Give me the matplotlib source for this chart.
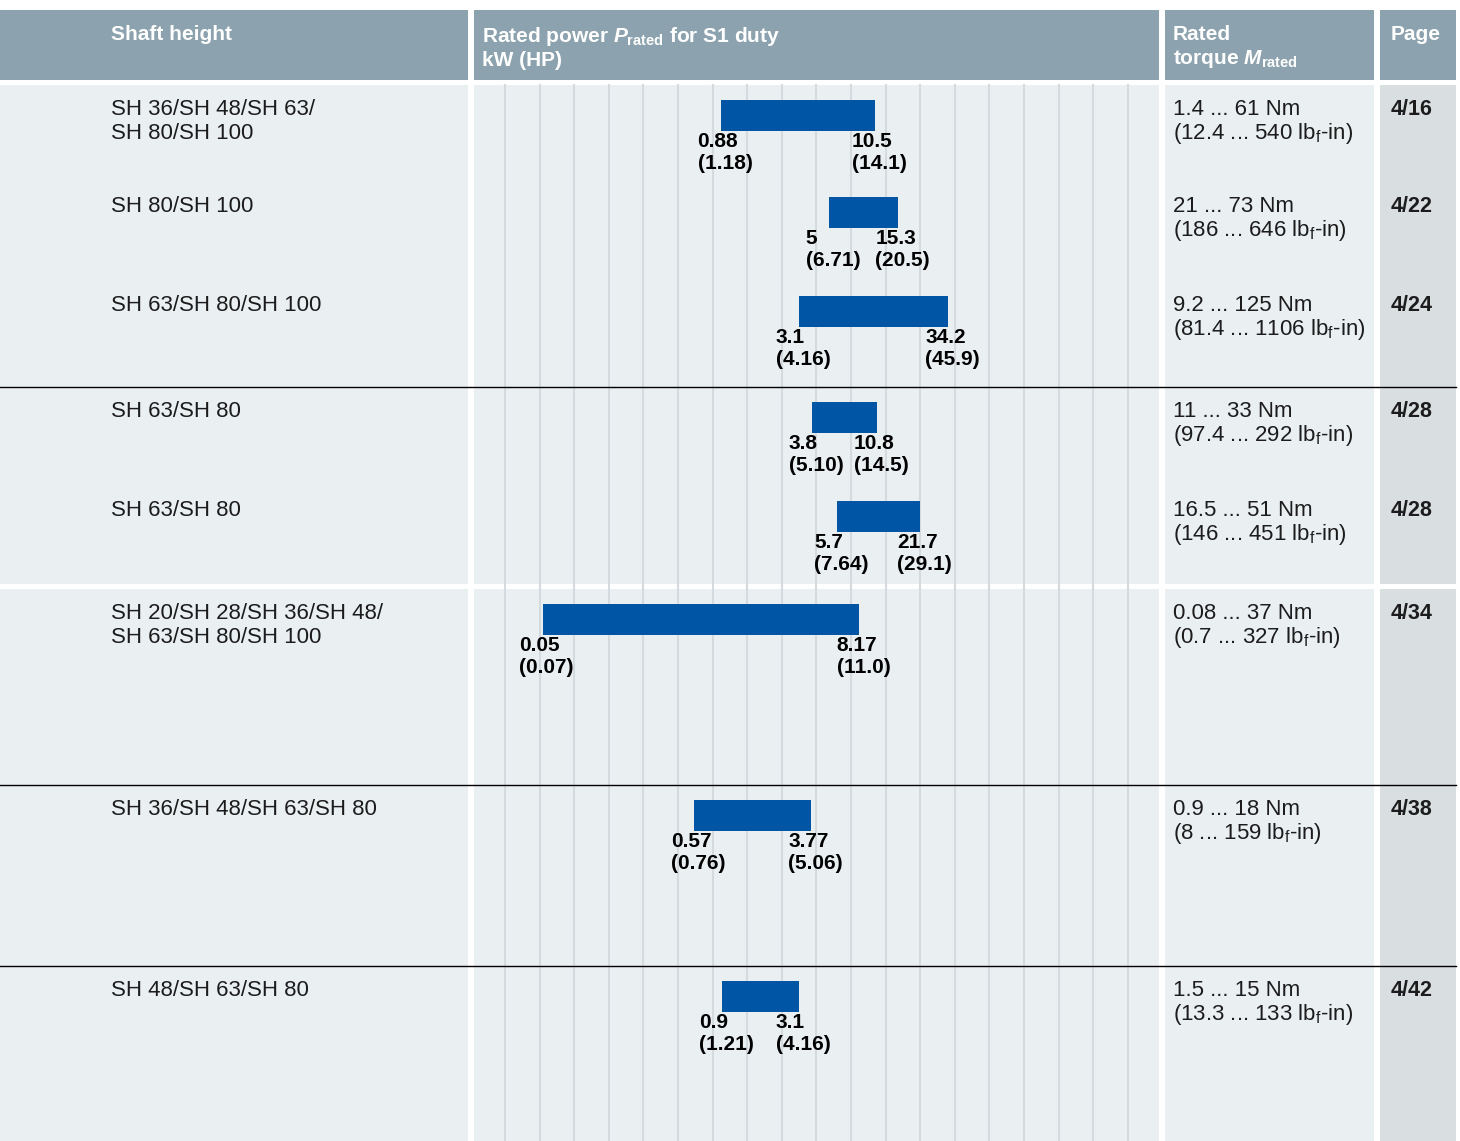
import matplotlib.pyplot as plt
from matplotlib.patches import Rectangle

plt.rcParams['font.family'] = ['Liberation Sans', 'DejaVu Sans']
plt.rcParams['mathtext.fontset'] = 'custom'
plt.rcParams['mathtext.it'] = 'Liberation Sans:italic:bold'
plt.rcParams['mathtext.rm'] = 'Liberation Sans'

# data
shaft = ["SH 36/SH 48/SH 63/\nSH 80/SH 100", "SH 80/SH 100", "SH 63/SH 80/SH 100",
         "SH 63/SH 80", "SH 63/SH 80", "SH 20/SH 28/SH 36/SH 48/\nSH 63/SH 80/SH 100",
         "SH 36/SH 48/SH 63/SH 80", "SH 48/SH 63/SH 80"]
kw_lo = [0.88, 5, 3.1, 3.8, 5.7, 0.05, 0.57, 0.9]
kw_hi = [10.5, 15.3, 34.2, 10.8, 21.7, 8.17, 3.77, 3.1]
hp_lo = ["1.18", "6.71", "4.16", "5.10", "7.64", "0.07", "0.76", "1.21"]
hp_hi = ["14.1", "20.5", "45.9", "14.5", "29.1", "11.0", "5.06", "4.16"]
torque_nm = ["1.4 ... 61 Nm", "21 ... 73 Nm", "9.2 ... 125 Nm", "11 ... 33 Nm",
             "16.5 ... 51 Nm", "0.08 ... 37 Nm", "0.9 ... 18 Nm", "1.5 ... 15 Nm"]
torque_lbf = ["12.4 ... 540", "186 ... 646", "81.4 ... 1106", "97.4 ... 292",
              "146 ... 451", "0.7 ... 327", "8 ... 159", "13.3 ... 133"]
pages = ["4/16", "4/22", "4/24", "4/28", "4/28", "4/34", "4/38", "4/42"]

# layout (pixels)
W, H = 1460, 1141
row_top = [100, 197, 296, 402, 501, 604, 800, 981]
BAR_H = 31
cols = [(0, 468), (474, 1159), (1165, 1374), (1380, 1456)]

HEAD = '#8ca2af'
BODY = '#eaeff2'
PAGE = '#d9dee1'
GRID = '#d4dadd'
BLUE = '#0055a4'
INK = '#1c1c1c'

fig = plt.figure(figsize=(W / 100, H / 100), dpi=100)
bg = fig.add_axes([0, 0, 1, 1])
bg.set_xlim(0, W)
bg.set_ylim(H, 0)
bg.axis('off')

for i, (x0, x1) in enumerate(cols):
    bg.add_patch(Rectangle((x0, 10), x1 - x0, 70, color=HEAD, lw=0))
    fill = PAGE if i == 3 else BODY
    for y0, y1 in [(85, 584), (589, H)]:
        bg.add_patch(Rectangle((x0, y0), x1 - x0, y1 - y0, color=fill, lw=0))

for k in range(19):
    gx = 505 + 34.6 * k
    bg.plot([gx, gx], [85, H], color=GRID, lw=1.5, zorder=2)

for y in [387, 785, 966]:
    bg.plot([0, 1456], [y, y], color='black', lw=1.0, zorder=3)

# header
hkw = dict(color='white', fontweight='bold', fontsize=15, va='top')
bg.text(111, 25, "Shaft height", **hkw)
bg.text(482, 25, r"Rated power $P_\mathregular{rated}$ for S1 duty" + "\nkW (HP)",
        linespacing=1.2, **hkw)
bg.text(1173, 25, "Rated\n" + r"torque $M_\mathregular{rated}$", linespacing=1.25, **hkw)
bg.text(1391, 25, "Page", **hkw)

# body text
for i, t in enumerate(row_top):
    bg.text(111, t - 1, shaft[i], fontsize=16, color=INK, va='top', linespacing=1.18)
    bg.text(1173, t - 1, torque_nm[i] + "\n(" + torque_lbf[i] + r" lb$_\mathregular{f}$-in)",
            fontsize=16, color=INK, va='top', linespacing=1.07)
    bg.text(1391, t - 1, pages[i], fontsize=15.5, color=INK, fontweight='bold', va='top')

# bars
ax = fig.add_axes([474 / W, 0, (1159 - 474) / W, (H - 85) / H])
ax.set_xscale('log')
ax.set_xlim(0.0166, 1010)
ax.set_ylim(H, 85)
ax.axis('off')

centers = [t + BAR_H / 2 for t in row_top]
widths = [h - l for l, h in zip(kw_lo, kw_hi)]
ax.barh(centers, widths, left=kw_lo, height=BAR_H, color=BLUE, zorder=3)

for i, t in enumerate(row_top):
    for v, hp in [(kw_lo[i], hp_lo[i]), (kw_hi[i], hp_hi[i])]:
        ax.annotate(f"{v:g}\n({hp})", xy=(v, t + BAR_H), xytext=(3, -1),
                    textcoords='offset points', ha='center', va='top',
                    multialignment='left', fontsize=15, fontweight='bold',
                    color='black', linespacing=1.17)

fig.savefig("out.png", dpi=100)
